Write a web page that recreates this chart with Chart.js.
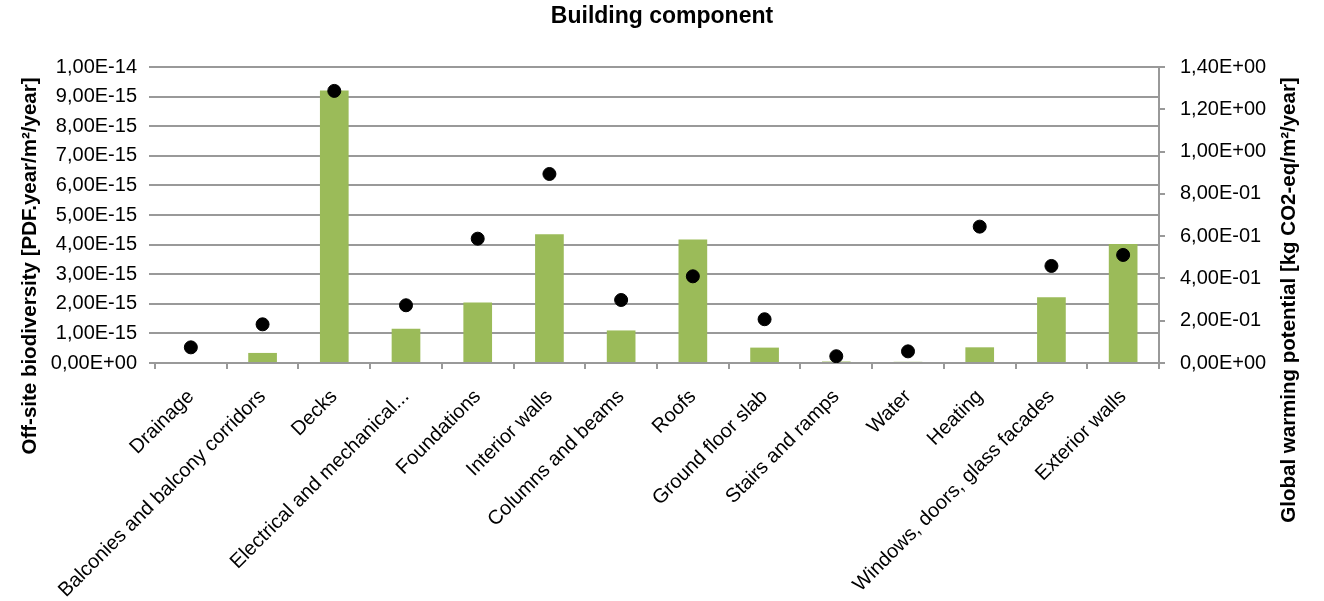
<!DOCTYPE html>
<html>
<head>
<meta charset="utf-8">
<script src="https://cdn.jsdelivr.net/npm/chart.js@4/dist/chart.umd.min.js"></script>
<style>
    html, body { margin: 0; padding: 0; background: #fff; }
    #wrap { width: 1324px; height: 601px; }
</style>
</head>
<body>
<div id="wrap"><canvas id="chart" width="1324" height="601"></canvas></div>
<script>
// categories
const components = [
    "Drainage", "Balconies and balcony corridors", "Decks", "Electrical and mechanical...",
    "Foundations", "Interior walls", "Columns and beams", "Roofs", "Ground floor slab",
    "Stairs and ramps", "Water", "Heating", "Windows, doors, glass facades", "Exterior walls"
];

// off-site biodiversity (bars, left axis)
const biodiversity = [
    0, 0.34e-15, 9.21e-15, 1.16e-15, 2.04e-15, 4.35e-15, 1.10e-15, 4.17e-15,
    0.52e-15, 0.05e-15, 0.04e-15, 0.53e-15, 2.22e-15, 4.02e-15
];

// global warming potential (dots, right axis)
const gwp = [
    0.074, 0.183, 1.287, 0.273, 0.588, 0.894, 0.298, 0.410,
    0.207, 0.032, 0.055, 0.645, 0.459, 0.511
];

const leftTitle = "Off-site biodiversity [PDF.year/m\u00b2/year]";
const rightTitle = "Global warming potential [kg CO2-eq/m\u00b2/year]";

const font = "Arial, 'Liberation Sans', sans-serif";
const gridColor = "#999999";

// 1.00e-14 -> 1,00E-14
function sci(v) {
    let s = Number(v).toExponential(2);
    let parts = s.split("e");
    let exp = parseInt(parts[1], 10);
    let sign = exp < 0 ? "-" : "+";
    let e = Math.abs(exp).toString().padStart(2, "0");
    return parts[0].replace(".", ",") + "E" + sign + e;
}

// axis titles drawn at the positions they have in the picture
function verticalText(ctx, text, x, y) {
    ctx.save();
    ctx.font = "bold 20.5px " + font;
    ctx.fillStyle = "#000";
    ctx.textAlign = "center";
    ctx.textBaseline = "middle";
    ctx.translate(x, y);
    ctx.rotate(-Math.PI / 2);
    ctx.fillText(text, 0, 0);
    ctx.restore();
}

const axisTitles = {
    id: "axisTitles",
    afterDraw(chart) {
        verticalText(chart.ctx, leftTitle, 30, 266);
        verticalText(chart.ctx, rightTitle, 1289, 300);
    }
};

new Chart(document.getElementById("chart"), {
    data: {
        labels: components,
        datasets: [
            {
                type: "line",
                label: "GWP",
                data: gwp,
                yAxisID: "y2",
                showLine: false,
                pointRadius: 6.5,
                pointBackgroundColor: "#000",
                pointBorderColor: "#000",
                order: 0
            },
            {
                type: "bar",
                label: "Biodiversity",
                data: biodiversity,
                yAxisID: "y",
                backgroundColor: "#9BBB59",
                barPercentage: 1,
                categoryPercentage: 0.4,
                order: 1
            }
        ]
    },
    options: {
        responsive: false,
        animation: false,
        layout: { padding: 0 },
        plugins: {
            legend: { display: false },
            tooltip: { enabled: false },
            title: {
                display: true,
                text: "Building component",
                color: "#000",
                font: { family: font, size: 23, weight: "bold" },
                padding: { top: 3, bottom: 36.4 }
            }
        },
        scales: {
            x: {
                offset: true,
                grid: {
                    offset: true,
                    drawOnChartArea: false,
                    drawTicks: true,
                    tickLength: 6,
                    color: gridColor,
                    lineWidth: 2
                },
                border: { display: true, color: gridColor, width: 2 },
                ticks: {
                    color: "#000",
                    font: { family: font, size: 20 },
                    minRotation: 45,
                    maxRotation: 45,
                    autoSkip: false,
                    padding: 16
                },
                afterFit(scale) { scale.height = 238; }
            },
            y: {
                position: "left",
                min: 0,
                max: 1e-14,
                ticks: {
                    stepSize: 1e-15,
                    color: "#000",
                    font: { family: font, size: 20 },
                    padding: 12,
                    callback: (v) => sci(v)
                },
                grid: {
                    color: gridColor,
                    lineWidth: 2,
                    tickLength: 6
                },
                border: { display: false },
                afterFit(scale) { scale.width = 155; }
            },
            y2: {
                position: "right",
                min: 0,
                max: 1.4,
                ticks: {
                    stepSize: 0.2,
                    color: "#000",
                    font: { family: font, size: 20 },
                    padding: 15,
                    callback: (v) => sci(v)
                },
                grid: {
                    drawOnChartArea: false,
                    color: gridColor,
                    lineWidth: 2,
                    tickLength: 6
                },
                border: { display: true, color: gridColor, width: 2 },
                afterFit(scale) { scale.width = 165; }
            }
        }
    },
    plugins: [axisTitles]
});
</script>
</body>
</html>
